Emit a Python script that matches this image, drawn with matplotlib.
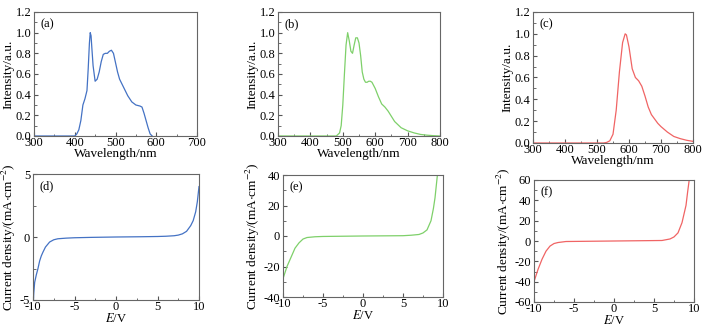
import matplotlib
matplotlib.use('Agg')
import matplotlib.pyplot as plt
from matplotlib.ticker import MultipleLocator

plt.rcParams['font.family'] = ['Liberation Serif', 'DejaVu Serif']
plt.rcParams['mathtext.fontset'] = 'stix'
plt.rcParams['axes.unicode_minus'] = False

# emission spectra
wl_a = [300, 400, 405, 410, 415, 420, 425, 430, 433, 436, 438, 440, 442, 445, 450, 455, 460,
        465, 470, 475, 480, 485, 490, 495, 500, 505, 510, 520, 530, 540, 550, 560, 565,
        570, 575, 580, 585, 590]
int_a = [0.0, 0.0, 0.02, 0.06, 0.15, 0.3, 0.36, 0.44, 0.65, 0.9, 1.0, 0.97, 0.85, 0.68, 0.53,
         0.55, 0.62, 0.72, 0.79, 0.8, 0.8, 0.82, 0.83, 0.8, 0.71, 0.62, 0.55, 0.47, 0.39,
         0.33, 0.30, 0.29, 0.28, 0.22, 0.15, 0.08, 0.02, 0.0]

wl_b = [300, 480, 490, 495, 500, 505, 510, 515, 520, 525, 530, 535, 540, 545, 550, 555, 560,
        565, 570, 575, 580, 585, 590, 600, 610, 620, 630, 640, 650, 660, 670, 680, 700,
        720, 740, 760, 780, 800]
int_b = [0.0, 0.0, 0.03, 0.1, 0.3, 0.6, 0.88, 1.0, 0.92, 0.82, 0.8, 0.88, 0.95, 0.95, 0.9,
         0.78, 0.62, 0.55, 0.52, 0.52, 0.53, 0.53, 0.52, 0.46, 0.38, 0.31, 0.28, 0.24,
         0.19, 0.14, 0.11, 0.08, 0.05, 0.03, 0.015, 0.008, 0.003, 0.0]

wl_c = [300, 520, 530, 540, 550, 560, 570, 580, 588, 592, 600, 610, 620, 630, 640, 650, 660,
        670, 680, 690, 700, 720, 740, 760, 780, 800]
int_c = [0.0, 0.0, 0.005, 0.02, 0.08, 0.3, 0.65, 0.92, 1.0, 0.99, 0.88, 0.68, 0.6, 0.57,
         0.52, 0.43, 0.33, 0.26, 0.22, 0.18, 0.15, 0.1, 0.06, 0.04, 0.025, 0.015]

# current density vs voltage
v_d = [-9.95, -9.9, -9.8, -9.6, -9.4, -9.2, -9.0, -8.8, -8.5, -8.0, -7.5, -7.0, -6.0, -5.0,
       -3.0, 0.0, 3.0, 5.0, 6.0, 7.0, 7.5, 8.0, 8.5, 9.0, 9.3, 9.6, 9.8, 10.0]
j_d = [-5.0, -4.4, -3.6, -3.0, -2.5, -1.9, -1.5, -1.2, -0.8, -0.4, -0.22, -0.14, -0.09,
       -0.06, -0.03, 0.0, 0.02, 0.04, 0.06, 0.1, 0.15, 0.25, 0.45, 0.9, 1.3, 2.0, 2.8, 4.0]

v_e = [-10.0, -9.5, -9.0, -8.5, -8.0, -7.5, -7.0, -6.0, -5.0, 0.0, 5.0, 6.0, 7.0, 7.5, 8.0,
       8.5, 8.8, 9.0, 9.2, 9.3]
j_e = [-28, -20, -14, -8, -4.5, -2, -1, -0.5, -0.3, 0, 0.2, 0.5, 1, 2, 4, 10, 18, 25, 35, 40]

v_f = [-10.0, -9.5, -9.0, -8.5, -8.0, -7.5, -7.0, -6.0, 0.0, 6.0, 7.0, 7.5, 8.0, 8.5, 9.0,
       9.2, 9.4]
j_f = [-40, -28, -18, -10, -5, -2.5, -1.5, -0.5, 0, 0.5, 2, 4, 8, 18, 35, 48, 60]

blue = '#4472c4'
green = '#7ed06a'
red = '#f06464'

W, H = 707, 325
fig = plt.figure(figsize=(W / 100, H / 100), dpi=100)


def make_ax(l, t, r, b):
    ax = fig.add_axes([l / W, 1 - b / H, (r - l) / W, (b - t) / H])
    for s in ax.spines.values():
        s.set_color('#666666')
        s.set_linewidth(0.8)
    ax.tick_params(direction='in', which='both', labelsize=9,
                   color='#555555', top=False, right=False)
    ax.tick_params(axis='x', pad=1)
    ax.tick_params(axis='y', pad=2)
    ax.tick_params(which='major', length=3)
    ax.tick_params(which='minor', length=1.8)
    return ax


specs = [
    ((34, 12, 197, 136), wl_a, int_a, blue, '(a)', 700),
    ((278, 12, 440, 136), wl_b, int_b, green, '(b)', 800),
    ((533, 12, 693, 143), wl_c, int_c, red, '(c)', 800),
]
for box, x, y, c, lab, xmax in specs:
    ax = make_ax(*box)
    ax.plot(x, y, color=c, lw=0.9)
    ax.set_xlim(300, xmax)
    ax.set_ylim(0, 1.2)
    ax.xaxis.set_major_locator(MultipleLocator(100))
    ax.xaxis.set_minor_locator(MultipleLocator(50))
    ax.yaxis.set_major_locator(MultipleLocator(0.2))
    ax.yaxis.set_minor_locator(MultipleLocator(0.1))
    ax.yaxis.set_major_formatter(plt.FuncFormatter(lambda v, p: f'{v:.1f}'))
    ax.set_xlabel('Wavelength/nm', fontsize=9.5, labelpad=-1)
    ax.set_ylabel('Intensity/a.u.', fontsize=9.5, labelpad=1)
    ax.text(0.04, 0.95, lab, transform=ax.transAxes, fontsize=9, va='top')

ivs = [
    ((33, 174, 199, 300), v_d, j_d, blue, '(d)', 5, 5),
    ((283, 175, 443, 297), v_e, j_e, green, '(e)', 40, 20),
    ((534, 180, 694, 302), v_f, j_f, red, '(f)', 60, 20),
]
for box, x, y, c, lab, ym, step in ivs:
    ax = make_ax(*box)
    ax.plot(x, y, color=c, lw=0.9)
    ax.set_xlim(-10, 10)
    ax.set_ylim(-ym, ym)
    ax.xaxis.set_major_locator(MultipleLocator(5))
    ax.xaxis.set_minor_locator(MultipleLocator(2.5))
    ax.yaxis.set_major_locator(MultipleLocator(step))
    ax.yaxis.set_minor_locator(MultipleLocator(step / 2))
    ax.set_xlabel('$E$/V', fontsize=9, labelpad=-1)
    ax.set_ylabel('Current density/(mA$\\cdot$cm$^{-2}$)', fontsize=9.5, labelpad=1)
    ax.text(0.04, 0.95, lab, transform=ax.transAxes, fontsize=9, va='top')

fig.savefig('out.png', dpi=100)
